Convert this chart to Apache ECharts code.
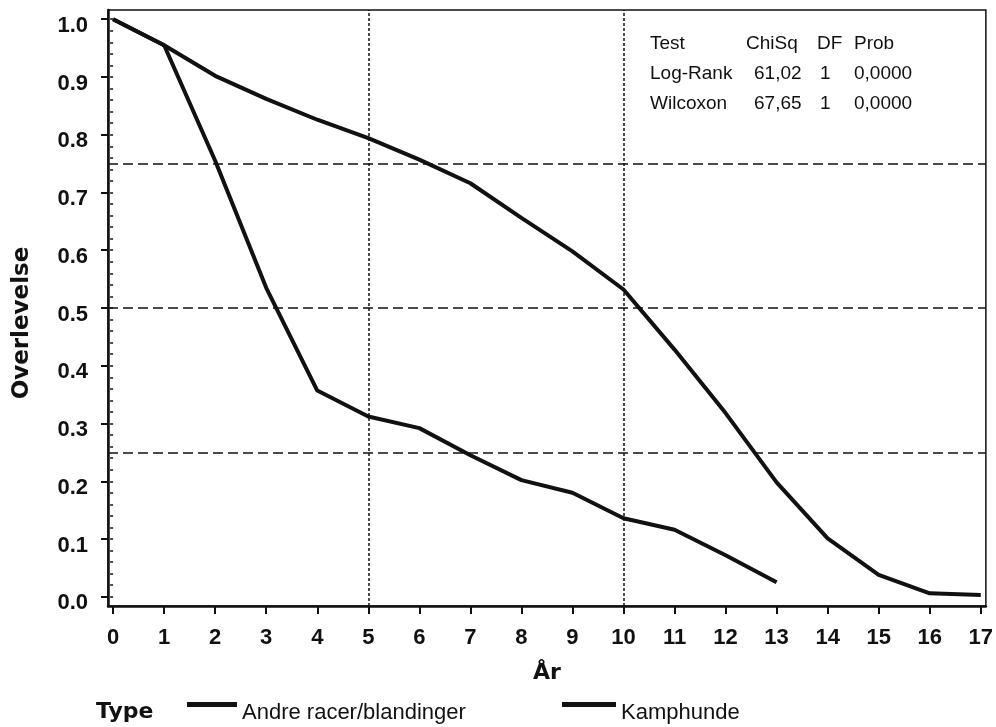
<!DOCTYPE html>
<html><head><meta charset="utf-8">
<script src="https://cdn.jsdelivr.net/npm/echarts@6/dist/echarts.min.js"></script>
<style>html,body{margin:0;padding:0;background:#fff}#c{width:996px;height:727px}</style>
</head><body><div id="c"></div>
<script>
// ---- data ----
const andreYears = [0,1,2,3,4,5,6,7,8,9,10,11,12,13,14,15,16,17];
const andre      = [1.0,0.955,0.902,0.862,0.826,0.794,0.757,0.716,0.656,0.598,0.532,0.428,0.318,0.198,0.101,0.038,0.006,0.003];
const kampYears  = [0,1,2,3,4,5,6,7,8,9,10,11,12,13];
const kamphunde  = [1.0,0.955,0.755,0.535,0.357,0.312,0.292,0.245,0.202,0.180,0.136,0.116,0.072,0.025];
const seriesNames = ['Andre racer/blandinger','Kamphunde'];
const xTicks = [0,1,2,3,4,5,6,7,8,9,10,11,12,13,14,15,16,17];
const yTicks = [0,0.1,0.2,0.3,0.4,0.5,0.6,0.7,0.8,0.9,1.0];
const yMinorTicks = [0,0.02,0.04,0.06,0.08,0.1,0.12,0.14,0.16,0.18,0.2,0.22,0.24,0.26,0.28,0.3,0.32,0.34,0.36,0.38,0.4,0.42,0.44,0.46,0.48,0.5,0.52,0.54,0.56,0.58,0.6,0.62,0.64,0.66,0.68,0.7,0.72,0.74,0.76,0.78,0.8,0.82,0.84,0.86,0.88,0.9,0.92,0.94,0.96,0.98,1.0];
const hRefLines = [0.25,0.5,0.75];
const vRefLines = [5,10];
const statsHeader = ['Test','ChiSq','DF','Prob'];
const statsRows = [['Log-Rank','61,02','1','0,0000'],['Wilcoxon','67,65','1','0,0000']];
const xName = 'År', yName = 'Overlevelse', legendTitle = 'Type';

// ---- chart ----
const FONT = '"Liberation Sans", Arial, sans-serif';
const HEAVY = '"DejaVu Sans", Verdana, sans-serif';
const INK = '#111';
const pairs = (xs, ys) => xs.map((x,i)=>[x, ys[i]]);

const statCols = [650, 746, 817, 854];
const statColsRow = [650, 754, 820, 854];
const graphics = [];
statsHeader.forEach((t,i)=>graphics.push({type:'text', left: statCols[i], top: 34,
  style:{text:t, font:'19px '+FONT, fill:INK}}));
statsRows.forEach((r,ri)=>r.forEach((t,i)=>graphics.push({type:'text', left: statColsRow[i], top: 64+ri*30,
  style:{text:t, font:'19px '+FONT, fill:INK}})));
graphics.push({type:'text', left: 96, top: 701, style:{text:legendTitle, font:'bold 22px '+HEAVY, fill:INK}});
graphics.push({type:'text', x: 22, y: 323, rotation: Math.PI/2,
  style:{text:yName, font:'bold 23px '+HEAVY, fill:INK, align:'center', verticalAlign:'middle'}});

const legendRich = {t:{fontFamily:FONT, fontSize:22, color:INK, padding:[17,0,0,0]}};
const legendFmt = n => '{t|' + n + '}';
const chart = echarts.init(document.getElementById('c'));
chart.setOption({
  animation:false,
  backgroundColor:'#fff',
  grid:{left:108, right:8, top:10, bottom:121, show:true, borderColor:INK, borderWidth:1.5, backgroundColor:'transparent'},
  legend:[
    {left:182, top:697, itemWidth:50, itemHeight:5, icon:'rect', formatter:legendFmt, textStyle:{rich:legendRich}, data:[seriesNames[0]]},
    {left:557, top:697, itemWidth:54, itemHeight:5, icon:'rect', formatter:legendFmt, textStyle:{rich:legendRich}, data:[seriesNames[1]]}
  ],
  graphic: graphics,
  xAxis:{
    type:'value', min:-0.1, max:17.1,
    name:xName, nameLocation:'middle', nameGap:56,
    nameTextStyle:{fontFamily:HEAVY, fontWeight:'bold', fontSize:22, color:INK},
    axisLine:{show:true, onZero:false, lineStyle:{color:INK, width:2.5}},
    axisTick:{show:true, length:8, customValues:xTicks, lineStyle:{color:INK, width:2}},
    axisLabel:{customValues:xTicks, margin:21, fontFamily:FONT, fontWeight:'bold', fontSize:22, color:INK},
    splitLine:{show:false}
  },
  yAxis:[{
    type:'value', min:-0.016, max:1.016,
    axisLine:{show:true, onZero:false, lineStyle:{color:INK, width:2.5}},
    axisTick:{show:true, length:7, customValues:yTicks, lineStyle:{color:INK, width:2}},
    axisLabel:{customValues:yTicks, margin:20, color:INK,
      formatter:v=>'{a|' + v.toFixed(1) + '}',
      rich:{a:{fontFamily:FONT, fontWeight:'bold', fontSize:22, color:INK, padding:[13,0,0,0]}}},
    splitLine:{show:false}
  },{
    type:'value', min:-0.016, max:1.016, position:'left',
    axisLine:{show:false},
    axisTick:{show:true, length:3, customValues:yMinorTicks, lineStyle:{color:INK, width:1.5}},
    axisLabel:{show:false},
    splitLine:{show:false}
  }],
  series:[
    {name:seriesNames[0], type:'line', data:pairs(andreYears, andre), showSymbol:false, symbol:'none',
     lineStyle:{color:INK, width:4}, itemStyle:{color:INK}, z:5,
     markLine:{silent:true, symbol:['none','none'], label:{show:false},
       data:[
         ...hRefLines.map(v=>({yAxis:v, lineStyle:{type:[10,5], color:INK, width:1.5}})),
         ...vRefLines.map(v=>({xAxis:v, lineStyle:{type:[3,2], color:INK, width:1.5}}))
       ]}},
    {name:seriesNames[1], type:'line', data:pairs(kampYears, kamphunde), showSymbol:false, symbol:'none',
     lineStyle:{color:INK, width:4}, itemStyle:{color:INK}, z:5}
  ]
});
</script>
</body></html>
